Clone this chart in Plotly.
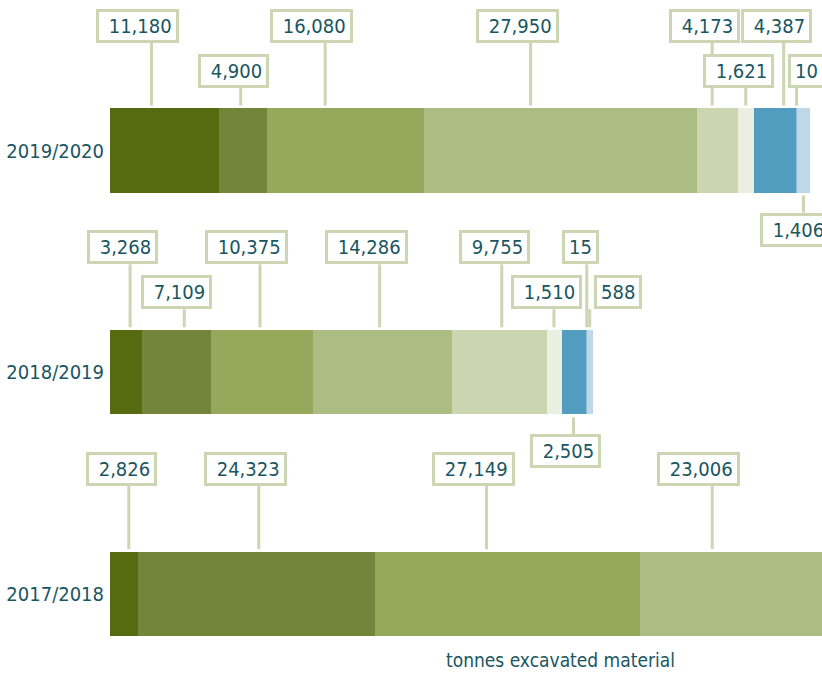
import plotly.graph_objects as go

# ---------------- data ----------------
YEARS = ["2017/2018", "2018/2019", "2019/2020"]
VALUES_2017 = [2826, 24323, 27149, 23006]
VALUES_2018 = [3268, 7109, 10375, 14286, 9755, 1510, 2505, 15, 588]
VALUES_2019 = [11180, 4900, 16080, 27950, 4173, 1621, 4387, 10, 1406]
AXIS_TITLE = "tonnes excavated material"

# ---------------- style ----------------
COLORS = ["#566a0f", "#72853a", "#95a85b", "#abbd82", "#cbd5b0",
          "#ebeee0", "#529cbf", "#8fbbd6", "#bfd8e8"]
SAGE = "#ccd6b2"
TEXT = "#19565f"
FONT = "DejaVu Sans Condensed, Liberation Sans Narrow, sans-serif"

# label placement: tier, leader position inside segment (fraction), box right edge offset (px)
TIERS = {
    0: ["up1", "up1", "up1", "up1"],
    1: ["up1", "up2", "up1", "up1", "up1", "up2", "down", "up1", "up2"],
    2: ["up1", "up2", "up1", "up1", "up1", "up2", "up1", "up2", "down"],
}
FRACS = {
    0: [0.68, 0.51, 0.42, 0.32],
    1: [0.63, 0.61, 0.48, 0.48, 0.52, 0.44, 0.46, 0.5, 0.5],
    2: [0.38, 0.45, 0.37, 0.39, 0.37, 0.5, 0.7, 0.5, 0.5],
}
SHIFTS = {
    0: [28, 28, 28, 28],
    1: [28, 28, 28, 28, 28, 28, 28, 12, 52],
    2: [28, 28, 28, 28, 28, 28, 28, 28, 28],
}
TIER_OFF = {"up1": 108, "up2": 63, "down": -62}
HALF = 45  # leader start offset from bar centre (px)

rows = [VALUES_2017, VALUES_2018, VALUES_2019]

fig = go.Figure()
nseg = max(len(r) for r in rows)
for i in range(nseg):
    xs = [r[i] if i < len(r) else None for r in rows]
    fig.add_trace(go.Bar(
        y=[0, 1, 2], x=xs, orientation="h", width=0.38,
        marker=dict(color=COLORS[i], line=dict(width=0)),
        showlegend=False, hoverinfo="x",
    ))

shapes = []
annotations = []
for ri, vals in enumerate(rows):
    cum = 0
    for si, v in enumerate(vals):
        lx = cum + v * FRACS[ri][si]
        cum += v
        tier = TIER_OFF[TIERS[ri][si]]
        if tier > 0:
            y0, y1, yanchor = HALF, tier, "bottom"
        else:
            y0, y1, yanchor = -HALF, tier, "top"
        shapes.append(dict(
            type="line", xref="x", yref="y", ysizemode="pixel", yanchor=ri,
            x0=lx, x1=lx, y0=y0, y1=y1,
            line=dict(color=SAGE, width=3), layer="below",
        ))
        label = f"{v:,}"
        if v >= 1000:
            label = "\u00a0" + label
        annotations.append(dict(
            x=lx, y=ri, xref="x", yref="y", text=label, showarrow=False,
            xanchor="right", yanchor=yanchor, xshift=SHIFTS[ri][si], yshift=tier,
            font=dict(family=FONT, size=20, color=TEXT), height=20,
            bgcolor="white", bordercolor=SAGE, borderwidth=3, borderpad=4,
        ))

annotations.append(dict(
    x=(560 - 110) / 712, y=(681 - 660) / 681, xref="paper", yref="paper",
    text=AXIS_TITLE, showarrow=False, xanchor="center", yanchor="middle",
    font=dict(family=FONT, size=19, color=TEXT),
))

fig.update_layout(
    width=822, height=681,
    margin=dict(l=110, r=0, t=0, b=0, autoexpand=False),
    paper_bgcolor="white", plot_bgcolor="white",
    barmode="stack", bargap=0,
    shapes=shapes, annotations=annotations,
    xaxis=dict(range=[0, 72900], visible=False, fixedrange=True, automargin=False),
    yaxis=dict(range=[-0.392, 2.679], tickvals=[0, 1, 2], ticktext=YEARS,
               showgrid=False, zeroline=False, showline=False, ticks="",
               automargin=False, ticklabelstandoff=5,
               tickfont=dict(family=FONT, size=20, color=TEXT), fixedrange=True),
)

fig.write_html("out.html", config={"displayModeBar": False},
               post_script="document.body.style.margin='0';document.body.style.overflow='hidden';")
